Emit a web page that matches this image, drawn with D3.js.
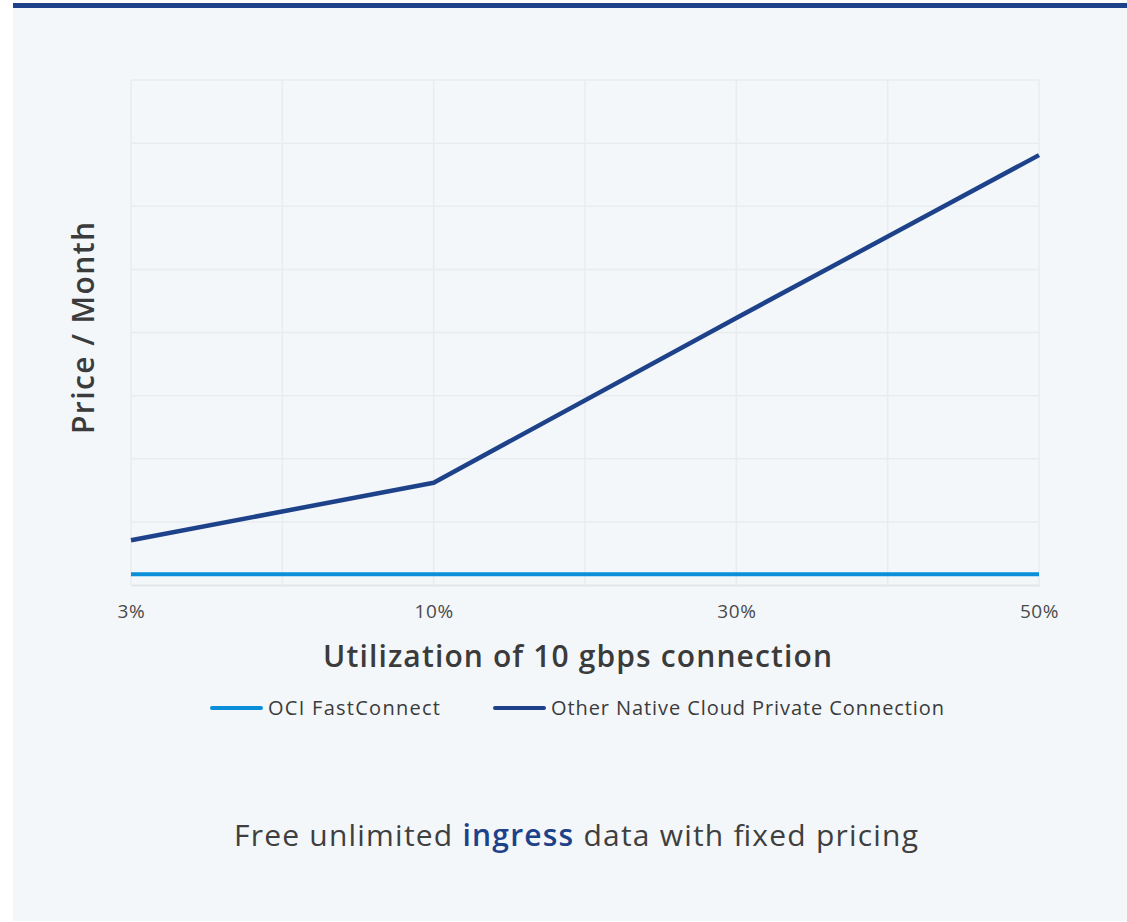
<!DOCTYPE html>
<html lang="en">
<head>
    <meta charset="UTF-8" />
    <title>Utilization of 10 gbps connection</title>
    <script src="https://d3js.org/d3.v7.min.js"></script>
    <style>
        html, body {
            margin: 0;
            padding: 0;
            background: #fff;
            font-family: "Open Sans", Lato, sans-serif;
        }
        svg { display: block; }
    </style>
</head>
<body>
<svg id="chart"></svg>

<script>
    const categories = ["3%", "10%", "30%", "50%"];
    const ociValues = [0.17, 0.17, 0.17, 0.17];
    const otherValues = [0.71, 1.62, 4.23, 6.81];
    const seriesNames = ["OCI FastConnect", "Other Native Cloud Private Connection"];
    const seriesColors = ["#0b8fd9", "#1d428a"];

    const width = 1127;
    const height = 922;
    const margin = { top: 80, right: 88, bottom: 337, left: 131 };

    const svg = d3.select("#chart")
        .attr("width", width)
        .attr("height", height);

    // panel + top bar
    svg.append("rect")
        .attr("x", 13).attr("y", 3)
        .attr("width", width - 13).attr("height", 918)
        .attr("fill", "#f3f7fa");
    svg.append("rect")
        .attr("x", 13).attr("y", 3)
        .attr("width", width - 13).attr("height", 5)
        .attr("fill", "#1d428a");

    const x = d3.scalePoint()
        .domain(categories)
        .range([margin.left, width - margin.right]);

    const y = d3.scaleLinear()
        .domain([0, 8])
        .range([height - margin.bottom, margin.top]);

    // grid
    const xGrid = d3.scaleLinear().domain([0, 6]).range(x.range());
    const grid = svg.append("g")
        .attr("stroke", "#e9ecef")
        .attr("stroke-width", 1.5);
    grid.selectAll("line.v")
        .data(d3.range(0, 7))
        .join("line")
        .attr("class", "v")
        .attr("x1", d => xGrid(d)).attr("x2", d => xGrid(d))
        .attr("y1", y(8)).attr("y2", y(0));
    grid.selectAll("line.h")
        .data(d3.range(1, 9))
        .join("line")
        .attr("class", "h")
        .attr("x1", x.range()[0]).attr("x2", x.range()[1])
        .attr("y1", d => y(d)).attr("y2", d => y(d));

    // x axis
    const xAxis = svg.append("g")
        .attr("transform", `translate(0,${y(0)})`)
        .call(d3.axisBottom(x).tickSize(0).tickPadding(20));
    xAxis.select(".domain").attr("stroke", "#e2e5e8").attr("stroke-width", 2);
    xAxis.selectAll("text")
        .attr("font-family", "'Open Sans', sans-serif")
        .attr("font-size", 19)
        .attr("font-weight", 400)
        .attr("letter-spacing", 0.6)
        .attr("fill", "#4a4a4a");

    const line = d3.line()
        .x((d, i) => x(categories[i]))
        .y(d => y(d));

    svg.append("path")
        .datum(ociValues)
        .attr("fill", "none")
        .attr("stroke", seriesColors[0])
        .attr("stroke-width", 4)
        .attr("d", line);

    svg.append("path")
        .datum(otherValues)
        .attr("fill", "none")
        .attr("stroke", seriesColors[1])
        .attr("stroke-width", 4.5)
        .attr("stroke-linejoin", "round")
        .attr("d", line);

    // titles
    svg.append("text")
        .attr("x", 323).attr("y", 667)
        .attr("textLength", 509)
        .attr("lengthAdjust", "spacing")
        .attr("font-size", 30)
        .attr("font-weight", 600)
        .attr("fill", "#3b3b3b")
        .text("Utilization of 10 gbps connection");

    svg.append("text")
        .attr("transform", "translate(94,434) rotate(-90)")
        .attr("textLength", 212)
        .attr("lengthAdjust", "spacing")
        .attr("font-size", 30)
        .attr("font-weight", 600)
        .attr("fill", "#3b3b3b")
        .text("Price / Month");

    // legend
    const legendX = [210, 493];
    const legendLen = [172, 393];
    const legend = svg.append("g")
        .selectAll("g")
        .data(seriesNames)
        .join("g")
        .attr("transform", (d, i) => `translate(${legendX[i]},708)`);
    legend.append("line")
        .attr("x1", 2).attr("x2", 51)
        .attr("stroke", (d, i) => seriesColors[i])
        .attr("stroke-width", 4)
        .attr("stroke-linecap", "round");
    legend.append("text")
        .attr("x", 58)
        .attr("dy", "0.36em")
        .attr("textLength", (d, i) => legendLen[i])
        .attr("lengthAdjust", "spacing")
        .attr("font-size", 20)
        .attr("font-weight", 400)
        .attr("fill", "#3b3b3b")
        .text(d => d);

    // footer note
    const note = svg.append("text")
        .attr("x", 234).attr("y", 846)
        .attr("textLength", 684)
        .attr("lengthAdjust", "spacing")
        .attr("font-size", 30)
        .attr("font-weight", 400)
        .attr("fill", "#3f3f3f");
    note.append("tspan").text("Free unlimited ");
    note.append("tspan").attr("font-weight", 600).attr("fill", "#1d428a").text("ingress");
    note.append("tspan").text(" data with fixed pricing");
</script>
</body>
</html>
